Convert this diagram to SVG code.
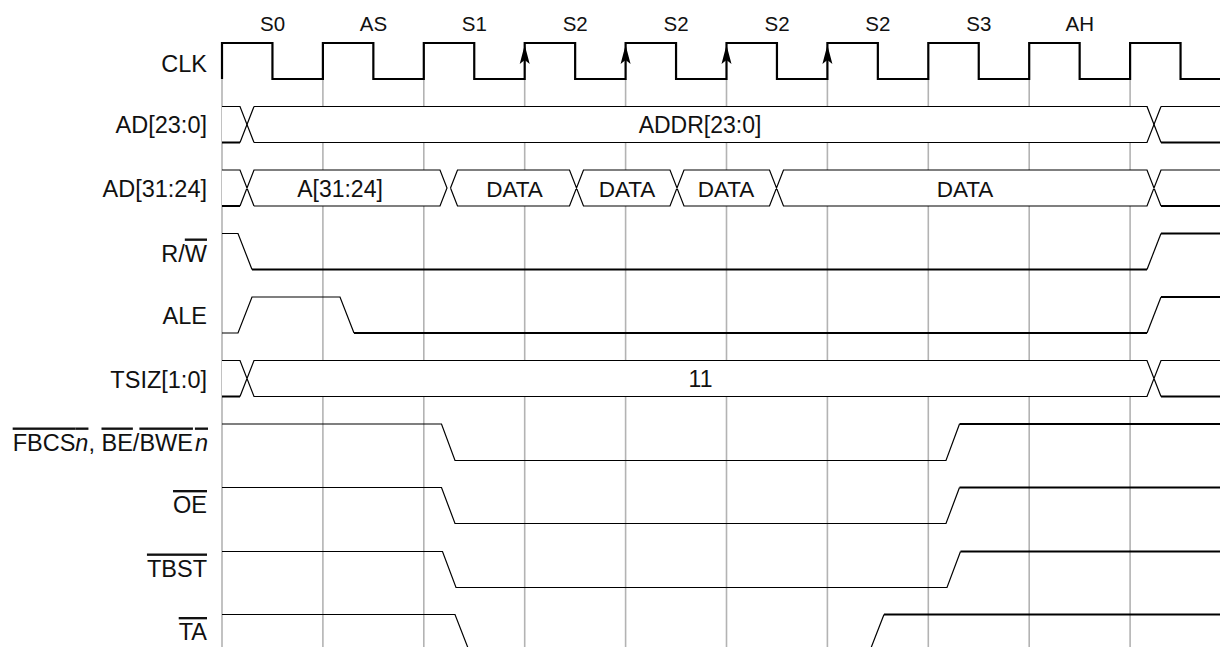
<svg xmlns="http://www.w3.org/2000/svg" width="1220" height="647" viewBox="0 0 1220 647">
<style>
text{font-family:"Liberation Sans",Arial,sans-serif;font-size:23px;fill:#111}
.lbl{text-anchor:end;font-size:23.5px}
.st{text-anchor:middle;font-size:20.5px}
.mid{text-anchor:middle}
.dt{text-anchor:middle;font-size:22.5px}
.grid{stroke:#b3b3b3;stroke-width:1.6;fill:none}
.clk{stroke:#000;stroke-width:2.2;fill:none}
.thin{stroke:#000;stroke-width:1.2;fill:none}
.thick{stroke:#000;stroke-width:2.2;fill:none}
.bus{fill:#fff;stroke:none}
.ov{text-decoration:overline}
</style>
<defs>
<path id="arr" d="M0,0 L5,19 L0,15 L-5,19 Z" fill="#000"/>
</defs>
<rect width="1220" height="647" fill="#fff"/>
<g id="grid" class="grid">
<line x1="222" y1="79" x2="222" y2="647"/>
<line x1="322.9" y1="79" x2="322.9" y2="647"/>
<line x1="423.8" y1="79" x2="423.8" y2="647"/>
<line x1="524.7" y1="79" x2="524.7" y2="647"/>
<line x1="625.6" y1="79" x2="625.6" y2="647"/>
<line x1="726.5" y1="79" x2="726.5" y2="647"/>
<line x1="827.4" y1="79" x2="827.4" y2="647"/>
<line x1="928.3" y1="79" x2="928.3" y2="647"/>
<line x1="1029.2" y1="79" x2="1029.2" y2="647"/>
<line x1="1130.1" y1="79" x2="1130.1" y2="647"/>
</g>
<g id="states">
<text class="st" x="272.5" y="31">S0</text>
<text class="st" x="373.4" y="31">AS</text>
<text class="st" x="474.3" y="31">S1</text>
<text class="st" x="575.2" y="31">S2</text>
<text class="st" x="676.1" y="31">S2</text>
<text class="st" x="777" y="31">S2</text>
<text class="st" x="877.9" y="31">S2</text>
<text class="st" x="978.8" y="31">S3</text>
<text class="st" x="1079.7" y="31">AH</text>
</g>
<g id="clk">
<text class="lbl" x="207" y="72">CLK</text>
<path class="clk" d="M222,79 V43 H272.45 V79 H322.9 V43 H373.35 V79 H423.8 V43 H474.25 V79 H524.7 V43 H575.15 V79 H625.6 V43 H676.05 V79 H726.5 V43 H776.95 V79 H827.4 V43 H877.85 V79 H928.3 V43 H978.75 V79 H1029.2 V43 H1079.65 V79 H1130.1 V43 H1180.55 V79 H1220"/>
<use href="#arr" x="524.7" y="45"/>
<use href="#arr" x="625.6" y="45"/>
<use href="#arr" x="726.5" y="45"/>
<use href="#arr" x="827.4" y="45"/>
</g>
<g id="ad23">
<text class="lbl" x="207" y="133">AD[23:0]</text>
<path class="bus" d="M222,106.5 H240 L247,124.5 L240,142.5 H222 Z M247,124.5 L254,106.5 H1147 L1154,124.5 L1147,142.5 H254 Z M1154,124.5 L1161,106.5 H1220 V142.5 H1161 Z"/>
<path class="thin" d="M222,106.5 H240 L254,142.5 M1147,106.5 L1161,142.5 M254,106.5 H1147 L1161,142.5 M1161,106.5 H1220"/>
<path class="thin" d="M240,142.5 L254,106.5 M254,142.5 H1147 L1161,106.5"/>
<path class="thick" d="M222,142.5 H240 M1161,142.5 H1220"/>
<text class="mid" x="700" y="133">ADDR[23:0]</text>
</g>
<g id="ad31">
<text class="lbl" x="207" y="196.5">AD[31:24]</text>
<path class="bus" d="M222,170 H240 L247,188 L240,206 H222 Z M247,188 L254,170 H440 L447,188 L440,206 H254 Z M450.5,188 L457.5,170 H569.5 L576.5,188 L569.5,206 H457.5 Z M576.5,188 L583.5,170 H670 L677,188 L670,206 H583.5 Z M677,188 L684,170 H769.5 L776.5,188 L769.5,206 H684 Z M776.5,188 L783.5,170 H1147 L1154,188 L1147,206 H783.5 Z M1154,188 L1161,170 H1220 V206 H1161 Z"/>
<path class="thin" d="M222,170 H240 L254,206 M240,206 L254,170 H440 L447,188 L440,206 H254 M450.5,188 L457.5,170 H569.5 L583.5,206 H670 L684,170 H769.5 L783.5,206 H1147 L1161,170 H1220 M450.5,188 L457.5,206 H569.5 L583.5,170 H670 L684,206 H769.5 L783.5,170 H1147 L1161,206"/>
<path class="thick" d="M222,206 H240 M1161,206 H1220"/>
<text class="mid" x="340" y="197">A[31:24]</text>
<text class="dt" x="514.5" y="197">DATA</text>
<text class="dt" x="627" y="197">DATA</text>
<text class="dt" x="726" y="197">DATA</text>
<text class="dt" x="965" y="197">DATA</text>
</g>
<g id="rw">
<text class="lbl" x="207" y="261.5">R/<tspan class="ov">W</tspan></text>
<path class="thin" d="M222,233.5 H238 L252,269.5"/>
<path class="thick" d="M252,269.5 H1147"/>
<path class="thin" d="M1147,269.5 L1161,233.5"/>
<path class="thick" d="M1161,233.5 H1220"/>
</g>
<g id="ale">
<text class="lbl" x="207" y="324">ALE</text>
<path class="thin" d="M222,333 H238 L252,297 H340 L354,333"/>
<path class="thick" d="M354,333 H1147"/>
<path class="thin" d="M1147,333 L1161,297"/>
<path class="thick" d="M1161,297 H1220"/>
</g>
<g id="tsiz">
<text class="lbl" x="207" y="388">TSIZ[1:0]</text>
<path class="bus" d="M222,360.5 H240 L247,378.5 L240,396.5 H222 Z M247,378.5 L254,360.5 H1147 L1154,378.5 L1147,396.5 H254 Z M1154,378.5 L1161,360.5 H1220 V396.5 H1161 Z"/>
<path class="thin" d="M222,360.5 H240 L254,396.5 H1147 L1161,360.5 H1220 M240,396.5 L254,360.5 H1147 L1161,396.5"/>
<path class="thick" d="M222,396.5 H240 M1161,396.5 H1220"/>
<text class="mid" x="700.5" y="387">11</text>
</g>
<g id="fbcs">
<text class="lbl" x="208" y="450.5"><tspan class="ov">FBCS<tspan font-style="italic">n</tspan></tspan>, <tspan class="ov">BE</tspan>/<tspan class="ov">BWE<tspan font-style="italic" dx="2">n</tspan></tspan></text>
<path class="thin" d="M222,424 H441.5 L455,460.5 H946 L959.5,424"/>
<path class="thick" d="M959.5,424 H1220"/>
</g>
<g id="oe">
<text class="lbl" x="207" y="513"><tspan class="ov">OE</tspan></text>
<path class="thin" d="M222,487.5 H441.5 L455,523.5 H946 L959.5,487.5"/>
<path class="thick" d="M959.5,487.5 H1220"/>
</g>
<g id="tbst">
<text class="lbl" x="207" y="576.5"><tspan class="ov">TBST</tspan></text>
<path class="thin" d="M222,551.5 H442.5 L456,587.5 H947 L960.5,551.5"/>
<path class="thick" d="M960.5,551.5 H1220"/>
</g>
<g id="ta">
<text class="lbl" x="207" y="640"><tspan class="ov">TA</tspan></text>
<path class="thin" d="M222,614.5 H455 L469,650.5 M870,650.5 L884,614.5"/>
<path class="thick" d="M884,614.5 H1220"/>
</g>
</svg>
